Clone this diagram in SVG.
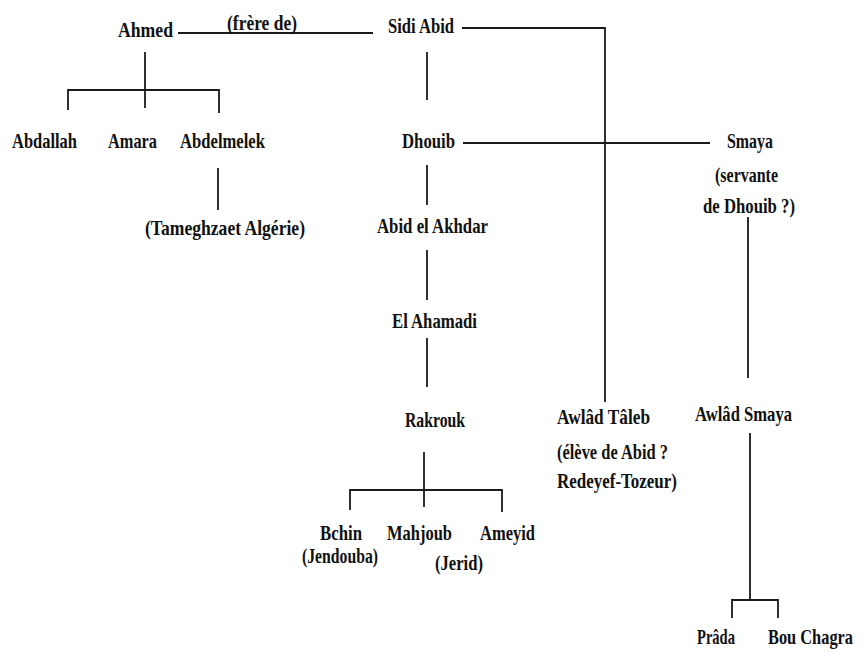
<svg xmlns="http://www.w3.org/2000/svg" width="860" height="653" viewBox="0 0 860 653">
<style>
text{font-family:"Liberation Serif","Times New Roman",serif;font-size:22px;font-weight:bold;fill:#111}
.c line, .c polyline{stroke:#1a1a1a;stroke-width:1.8;fill:none}
</style>
<rect width="860" height="653" fill="#fff"/>
<g class="c" id="connectors">
<line x1="178" y1="33" x2="373" y2="33"/>
<polyline points="462,28 605,28 605,402"/>
<line x1="427" y1="52" x2="427" y2="100"/>
<line x1="463" y1="143" x2="710" y2="143"/>
<line x1="748" y1="217" x2="748" y2="378"/>
<line x1="145" y1="52" x2="145" y2="108"/>
<polyline points="68,110 68,90 219,90 219,113"/>
<line x1="218" y1="168" x2="218" y2="210"/>
<line x1="427" y1="165" x2="427" y2="205"/>
<line x1="427" y1="250" x2="427" y2="300"/>
<line x1="427" y1="338" x2="427" y2="387"/>
<line x1="424" y1="452" x2="424" y2="507"/>
<polyline points="350,510 350,490 502,490 502,512"/>
<line x1="750" y1="433" x2="750" y2="600"/>
<polyline points="732,618 732,600 778,600 778,618"/>
</g>
<g id="n-ahmed"><text x="118" y="37" textLength="55" lengthAdjust="spacingAndGlyphs">Ahmed</text></g>
<g id="l-frere"><text x="227" y="30" textLength="70" lengthAdjust="spacingAndGlyphs">(frère de)</text></g>
<g id="n-sidiabid"><text x="388" y="33" textLength="66" lengthAdjust="spacingAndGlyphs">Sidi Abid</text></g>
<g id="n-abdallah"><text x="12" y="148" textLength="65" lengthAdjust="spacingAndGlyphs">Abdallah</text></g>
<g id="n-amara"><text x="108" y="148" textLength="49" lengthAdjust="spacingAndGlyphs">Amara</text></g>
<g id="n-abdelmelek"><text x="180" y="148" textLength="85" lengthAdjust="spacingAndGlyphs">Abdelmelek</text></g>
<g id="n-tameghza"><text x="145" y="235" textLength="160" lengthAdjust="spacingAndGlyphs">(Tameghzaet Algérie)</text></g>
<g id="n-dhouib"><text x="402" y="148" textLength="53" lengthAdjust="spacingAndGlyphs">Dhouib</text></g>
<g id="n-smaya">
<text x="727" y="148" textLength="46" lengthAdjust="spacingAndGlyphs">Smaya</text>
<text x="715" y="182" textLength="63" lengthAdjust="spacingAndGlyphs">(servante</text>
<text x="703" y="213" textLength="92" lengthAdjust="spacingAndGlyphs">de Dhouib ?)</text>
</g>
<g id="n-abidelakhdar"><text x="377" y="233" textLength="111" lengthAdjust="spacingAndGlyphs">Abid el Akhdar</text></g>
<g id="n-elahamadi"><text x="392" y="328" textLength="85" lengthAdjust="spacingAndGlyphs">El Ahamadi</text></g>
<g id="n-rakrouk"><text x="405" y="427" textLength="60" lengthAdjust="spacingAndGlyphs">Rakrouk</text></g>
<g id="n-bchin">
<text x="320" y="540" textLength="42" lengthAdjust="spacingAndGlyphs">Bchin</text>
<text x="302" y="563" textLength="76" lengthAdjust="spacingAndGlyphs">(Jendouba)</text>
</g>
<g id="n-mahjoub">
<text x="387" y="540" textLength="65" lengthAdjust="spacingAndGlyphs">Mahjoub</text>
<text x="435" y="570" textLength="48" lengthAdjust="spacingAndGlyphs">(Jerid)</text>
</g>
<g id="n-ameyid"><text x="480" y="540" textLength="55" lengthAdjust="spacingAndGlyphs">Ameyid</text></g>
<g id="n-awladtaleb">
<text x="557" y="424" textLength="93" lengthAdjust="spacingAndGlyphs">Awlâd Tâleb</text>
<text x="557" y="459" textLength="111" lengthAdjust="spacingAndGlyphs">(élève de Abid ?</text>
<text x="557" y="488" textLength="120" lengthAdjust="spacingAndGlyphs">Redeyef-Tozeur)</text>
</g>
<g id="n-awladsmaya"><text x="695" y="421" textLength="97" lengthAdjust="spacingAndGlyphs">Awlâd Smaya</text></g>
<g id="n-prada"><text x="697" y="644" textLength="38" lengthAdjust="spacingAndGlyphs">Prâda</text></g>
<g id="n-bouchagra"><text x="768" y="644" textLength="85" lengthAdjust="spacingAndGlyphs">Bou Chagra</text></g>
</svg>
